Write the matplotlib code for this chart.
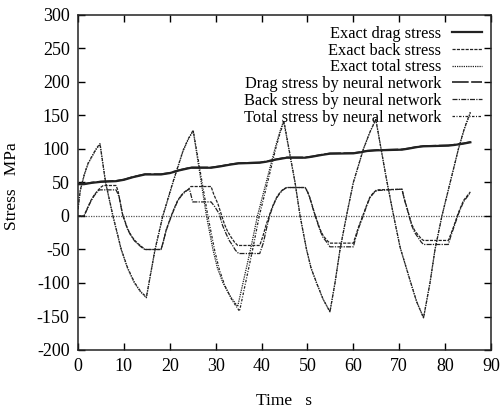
import matplotlib.pyplot as plt

plt.rcParams['font.family'] = ['Liberation Serif', 'DejaVu Serif']
plt.rcParams['axes.unicode_minus'] = False

# drag stress (exact and neural network)
drag_t = [0, 1.3, 3, 5, 8.3, 10, 12, 14.6, 18.1, 20, 22, 24.6, 29, 31, 33, 35, 39.6,
          41, 43, 45.5, 49.5, 51, 53, 54.9, 60, 61.5, 63, 65.1, 70.6, 72, 74, 75.3,
          80.7, 82, 84, 85.5]
drag_exact = [47.5, 47.5, 49.5, 51, 52, 54, 58, 62, 62, 64, 68, 72, 72, 74, 76.5, 78.5, 79.5,
              81, 84, 87, 87, 88.5, 91, 93, 93.5, 95, 97, 98, 99, 100.5, 103, 104,
              105, 106, 108, 110]
drag_nn = [48, 48, 50, 51.5, 52.5, 54.5, 58.5, 62.5, 62.5, 64.5, 68.5, 72.5, 72.5, 74.5, 77, 79, 80,
           81.5, 84.5, 87.5, 87.5, 89, 91.5, 93.5, 94, 95.5, 97.5, 98.5, 99.5, 101, 103.5, 104.5,
           105.5, 106.5, 108.5, 110.5]

# back stress
back_t_exact = [0, 1.3, 2.0, 2.8, 3.5, 4.3, 5.0, 5.5, 8.3, 8.7, 9.0, 9.7, 10.8, 11.5, 12.3, 13.2,
                14.1, 14.6, 18.1, 18.6, 19.2, 20.3, 21.0, 21.7, 22.5, 23.2, 24.0, 24.6, 29,
                29.6, 30.5, 31.2, 31.9, 32.6, 33.4, 34.1, 34.8, 39.6, 40.3, 41.0, 41.8, 42.5,
                43.3, 44.0, 44.7, 45.5, 49.5, 50.0, 50.5, 51.6, 52.7, 53.4, 54.2, 54.9, 60,
                60.5, 61.1, 62.2, 62.9, 63.6, 64.4, 65.1, 70.6, 71.1, 71.7, 72.7, 73.4, 74.2,
                74.8, 75.3, 80.7, 81.2, 81.8, 82.9, 84, 85.5]
back_exact = [0, 0, 11, 23, 31, 38, 43, 45.5, 45.5, 38, 28, 3, -19, -28, -36, -42,
              -47, -50, -50, -38, -21, 0, 12, 23, 31, 36, 39.5, 44, 44,
              32, 18, 3, -12, -23, -32, -39, -44, -44, -30, -13, 3, 16,
              28, 35, 40, 42.5, 42.5, 37, 28, 3, -19, -29, -36, -40.5, -40.5,
              -30, -17, 3, 16, 28, 35, 39, 40, 26, 12, -12, -22, -29,
              -34, -36.5, -36.5, -28, -17, 5, 23, 36]
back_t_nn = [0, 1.3, 2.0, 2.8, 3.5, 4.3, 4.7, 8.3, 8.7, 9.0, 9.7, 10.8, 11.5, 12.3, 13.2,
             14.1, 14.6, 18.1, 18.6, 19.2, 20.3, 21.0, 21.7, 22.5, 23.2, 23.8, 24.3, 25, 29,
             29.8, 30.8, 31.5, 32.3, 33.0, 33.7, 34.3, 35, 39.6, 40.4, 41.1, 41.8, 42.5,
             43.3, 44.0, 44.7, 45.5, 49.5, 50.0, 50.5, 51.6, 52.7, 53.4, 54.2, 54.9, 60,
             60.5, 61.1, 62.2, 62.9, 63.6, 64.4, 65.1, 70.6, 71.1, 71.7, 72.7, 73.4, 74.2,
             74.8, 75.3, 80.7, 81.2, 81.8, 82.9, 84, 85.5]
back_nn = [0, 0, 10, 22, 30, 37, 39, 39, 33, 27, 2, -20, -29, -37, -43,
           -48, -50, -50, -38, -22, -1, 11, 22, 30, 35, 38.5, 40, 21, 21,
           14, 3, -14, -27, -37, -44, -51, -56, -56, -40, -18, 1, 15,
           27, 34, 39, 42.5, 42.5, 36, 27, 2, -21, -32, -39, -46, -46,
           -33, -19, 1, 15, 27, 34, 38, 40, 25, 11, -14, -25, -33,
           -39, -42.5, -42.5, -31, -19, 3, 21, 35]

# total stress
total_t_exact = [0, 0.5, 1.4, 2.2, 3, 4, 4.8, 6.0, 7.6, 9.4, 10.8, 12.3, 13.6, 14.9, 16.8, 18.5,
                 20.7, 22.9, 24.0, 25.1, 28.0, 29.4, 30.4, 31.6, 33.2, 34.8, 37.6, 39.1, 41.0,
                 42.9, 43.9, 44.8, 47.3, 48.4, 49.8, 50.8, 52.0, 53.4, 54.9, 56, 57.1, 58.5,
                 60, 62.2, 63.6, 64.9, 67.3, 68.7, 70.2, 72.4, 73.8, 75.3, 76.7, 77.8, 79.3,
                 81.1, 82.9, 84.2, 85.5]
total_exact = [10, 38, 62, 78, 88, 100, 107, 50, 0, -50, -78, -100, -113, -122, -50, 0,
               50, 97, 114, 127, 0, -50, -78, -100, -120, -135, -50, 0, 50,
               100, 124, 142, 50, 0, -50, -78, -100, -124, -143, -100, -50, 0,
               50, 100, 125, 144, 52, 3, -47, -97, -128, -152, -100, -50, 0,
               50, 100, 130, 154]
total_t_nn = [0, 0.5, 1.4, 2.2, 3, 4, 4.8, 6.0, 7.6, 9.4, 10.8, 12.3, 13.6, 14.9, 16.8, 18.5,
              20.7, 22.9, 24.0, 25.1, 28.3, 29.8, 30.8, 32.0, 33.6, 35.2, 38.0, 39.5, 41.3,
              43.1, 44.0, 44.9, 47.3, 48.4, 49.8, 50.8, 52.0, 53.4, 54.9, 56, 57.1, 58.5,
              60, 62.2, 63.6, 64.9, 67.3, 68.7, 70.2, 72.4, 73.8, 75.3, 76.7, 77.8, 79.3,
              81.1, 82.9, 84.2, 85.5]
total_nn = [11, 39, 63, 79, 89, 101, 108, 51, 1, -49, -77, -99, -112, -121, -49, 1,
            51, 98, 115, 128, 0, -52, -80, -104, -126, -142, -52, 0, 50,
            101, 123, 141, 50, 0, -50, -78, -100, -124, -143, -100, -50, 0,
            50, 100, 125, 144, 52, 3, -47, -97, -128, -152, -100, -50, 0,
            50, 100, 131, 155]

ink = '#222222'

fig = plt.figure(figsize=(5.02, 4.09), dpi=100)
ax = fig.add_axes([78 / 502, 1 - 350 / 409, 413 / 502, 335 / 409])

# dotted zero axis
ax.axhline(0, color='#555555', lw=0.9, ls=(0, (1, 1)), zorder=1)

ax.plot(drag_t, drag_exact, color=ink, lw=1.6, ls='-', label='Exact drag stress')
ax.plot(back_t_exact, back_exact, color=ink, lw=0.9, ls=(0, (2.5, 1)), label='Exact back stress')
ax.plot(total_t_exact, total_exact, color=ink, lw=0.9, ls=(0, (1, 0.8)), label='Exact total stress')
ax.plot(drag_t, drag_nn, color=ink, lw=1.2, ls=(0, (10, 1.5)), label='Drag stress by neural network')
ax.plot(back_t_nn, back_nn, color=ink, lw=0.9, ls=(0, (4, 1, 1, 1)), label='Back stress by neural network')
ax.plot(total_t_nn, total_nn, color=ink, lw=0.9, ls=(0, (2, 1.2, 0.8, 1.2)), label='Total stress by neural network')

ax.set_xlim(0, 90)
ax.set_ylim(-200, 300)
ax.set_xticks(range(0, 91, 10))
ax.set_yticks(range(-200, 301, 50))
ax.tick_params(direction='in', length=5, width=1, top=True, right=True, labelsize=13, pad=6)
for s in ax.spines.values():
    s.set_linewidth(1.1)
    s.set_color(ink)

ax.set_xlabel('Time   s', fontsize=12.5)
ax.set_ylabel('Stress   MPa', fontsize=12.5)
ax.xaxis.set_label_coords(0.5, -0.128)
ax.yaxis.set_label_coords(-0.14, 0.49)

ax.legend(loc='upper right', bbox_to_anchor=(0.978, 0.968), markerfirst=False, frameon=False,
          fontsize=11.8, handlelength=1.8, handletextpad=0.67, labelspacing=0.05, borderaxespad=0,
          borderpad=0)

fig.savefig('out.png', dpi=100)
